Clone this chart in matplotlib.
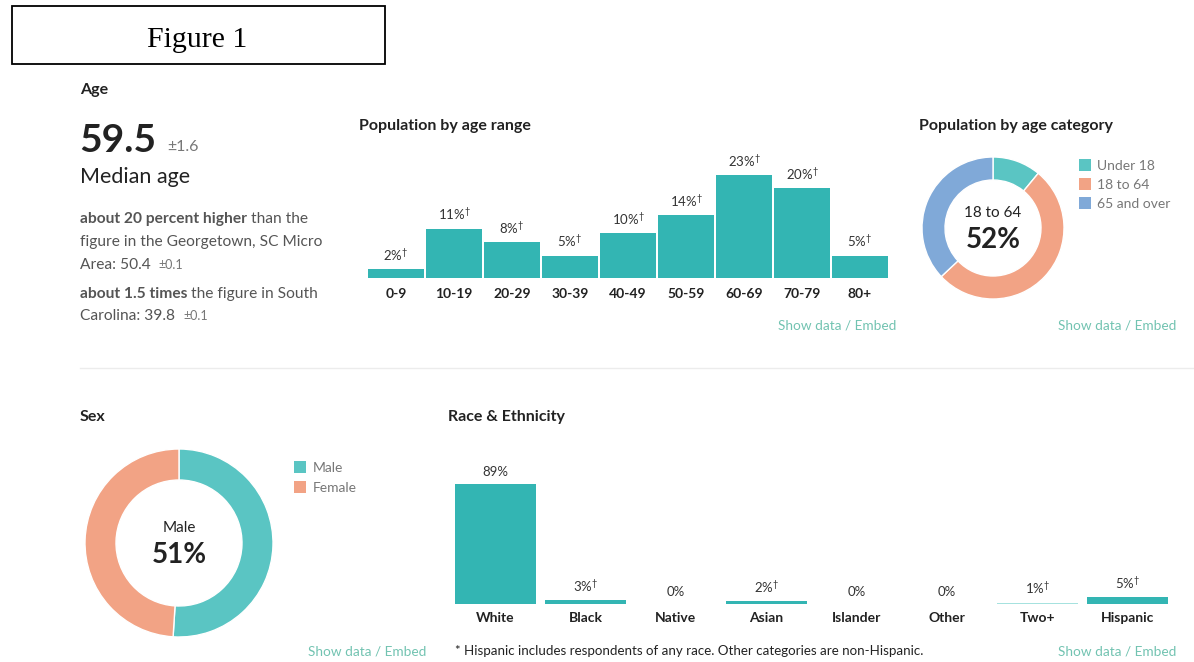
import matplotlib
matplotlib.use("Agg")
import matplotlib.pyplot as plt
from matplotlib.patches import Rectangle
from matplotlib.lines import Line2D

plt.rcParams['font.family'] = ['Lato', 'DejaVu Sans']
plt.rcParams['mathtext.fontset'] = 'custom'
plt.rcParams['mathtext.rm'] = 'Lato'
plt.rcParams['mathtext.bf'] = 'Lato:bold'

# ---------------- data ----------------
age_ranges = ["0-9", "10-19", "20-29", "30-39", "40-49", "50-59", "60-69", "70-79", "80+"]
age_pct = [2, 11, 8, 5, 10, 14, 23, 20, 5]

age_cat_labels = ["Under 18", "18 to 64", "65 and over"]
age_cat_pct = [11, 52, 37]

sex_labels = ["Male", "Female"]
sex_pct = [51, 49]

race_labels = ["White", "Black", "Native", "Asian", "Islander", "Other", "Two+", "Hispanic"]
race_pct = [89, 3, 0, 2, 0, 0, 1, 5]
race_dagger = [False, True, False, True, False, False, True, True]

median_age = "59.5"
median_moe = "±1.6"

# ---------------- style ----------------
W, H = 1194, 662
BAR = "#33b5b3"
TEAL = "#5ac5c3"
SALMON = "#f2a385"
BLUE = "#80a9d8"
LIGHT_TEAL = "#a6e2df"
LINK = "#72c3b1"
DARK = "#222222"
BODY = "#555555"
MUTED = "#777777"

fig = plt.figure(figsize=(W / 100, H / 100), dpi=100)
fig.patch.set_facecolor("white")


def fx(x):
    return x / W


def fy(y):
    return 1 - y / H


def txt(x, y, s, **kw):
    kw.setdefault("va", "baseline")
    return fig.text(fx(x), fy(y), s, **kw)


def add_axes_px(x0, y0, x1, y1):
    return fig.add_axes([fx(x0), fy(y1), (x1 - x0) / W, (y1 - y0) / H])


renderer = fig.canvas.get_renderer()


def width_px(t):
    return t.get_window_extent(renderer=renderer).width


def mixed_line(x, y, parts, size):
    for s, bold, color, sz in parts:
        t = txt(x, y, s, fontsize=sz or size, fontweight="bold" if bold else "normal", color=color)
        x += width_px(t)


# ---------------- Figure 1 box ----------------
fig.add_artist(Rectangle((fx(12), fy(64)), (385 - 12) / W, (64 - 6) / H,
                         transform=fig.transFigure, fill=False, edgecolor="black", linewidth=1.3))
txt(197, 47, "Figure 1", ha="center", fontsize=21.5, family="Liberation Serif", color="black")

# ---------------- Age text block ----------------
txt(80, 94, "Age", fontsize=11.5, fontweight="bold", color=DARK)
t = txt(79, 152, median_age, fontsize=28, fontweight="bold", color=DARK)
txt(79 + width_px(t) + 11, 151, median_moe, fontsize=11.5, color=MUTED)
txt(80, 183, "Median age", fontsize=15.5, color=DARK)

BS = 11.2
mixed_line(80, 223, [("about 20 percent higher", True, BODY, None), (" than the", False, BODY, None)], BS)
mixed_line(80, 246, [("figure in the Georgetown, SC Micro", False, BODY, None)], BS)
mixed_line(80, 269, [("Area: 50.4  ", False, BODY, None), ("±0.1", False, MUTED, 9)], BS)
mixed_line(80, 298, [("about 1.5 times", True, BODY, None), (" the figure in South", False, BODY, None)], BS)
mixed_line(80, 320, [("Carolina: 39.8  ", False, BODY, None), ("±0.1", False, MUTED, 9)], BS)


def value_label(ax, x, y, v, dagger, size):
    s = f"{v}%" + (r"$^{\dagger}$" if dagger else "")
    ax.annotate(s, (x, y), xytext=(0, 6), textcoords="offset points",
                ha="center", va="baseline", fontsize=size, color="#333333")


def clean(ax):
    for sp in ax.spines.values():
        sp.set_visible(False)
    ax.tick_params(axis="both", length=0)
    ax.set_yticks([])


# ---------------- Population by age range ----------------
txt(359, 130, "Population by age range", fontsize=11.5, fontweight="bold", color=DARK)
ax1 = add_axes_px(367, 150, 889, 278)
xs = list(range(len(age_ranges)))
ax1.bar(xs, age_pct, width=0.975, color=BAR)
ax1.set_xlim(-0.5, len(age_ranges) - 0.5)
ax1.set_ylim(0, 128 / 4.48)
clean(ax1)
ax1.set_xticks(xs, age_ranges, fontsize=10, fontweight="bold", color=DARK)
ax1.tick_params(axis="x", pad=7)
for x, v in zip(xs, age_pct):
    value_label(ax1, x, v, v, True, 9.5)
txt(896, 329, "Show data / Embed", ha="right", fontsize=9.8, color=LINK)

# ---------------- Population by age category ----------------
txt(919, 130, "Population by age category", fontsize=11.5, fontweight="bold", color=DARK)
R1 = 71
CX1, CY1 = 993, 228
ax2 = add_axes_px(CX1 - R1, CY1 - R1, CX1 + R1, CY1 + R1)
ax2.pie(age_cat_pct, colors=[TEAL, SALMON, BLUE], startangle=90, counterclock=False,
        wedgeprops=dict(width=23 / R1, edgecolor="white", linewidth=1))
ax2.set_xlim(-1, 1)
ax2.set_ylim(-1, 1)
ax2.set_axis_off()
txt(CX1, 217, age_cat_labels[1], ha="center", fontsize=11, color=DARK)
txt(CX1, 248, f"{age_cat_pct[1]}%", ha="center", fontsize=20, fontweight="bold", color=DARK)
for i, (lab, col) in enumerate(zip(age_cat_labels, [TEAL, SALMON, BLUE])):
    yc = 165 + 19 * i
    fig.add_artist(Rectangle((fx(1079), fy(yc + 6)), 12 / W, 12 / H,
                             transform=fig.transFigure, color=col, linewidth=0))
    txt(1097, yc + 5, lab, fontsize=10, color=MUTED)
txt(1176, 329, "Show data / Embed", ha="right", fontsize=9.8, color=LINK)

# separator
fig.add_artist(Line2D([fx(80), fx(1194)], [fy(368), fy(368)], transform=fig.transFigure,
                      color="#ececec", linewidth=1))

# ---------------- Sex ----------------
txt(80, 421, "Sex", fontsize=11.5, fontweight="bold", color=DARK)
R2 = 94
CX2, CY2 = 179, 543
ax3 = add_axes_px(CX2 - R2, CY2 - R2, CX2 + R2, CY2 + R2)
ax3.pie(sex_pct, colors=[TEAL, SALMON], startangle=90, counterclock=False,
        wedgeprops=dict(width=31 / R2, edgecolor="white", linewidth=1))
ax3.set_xlim(-1, 1)
ax3.set_ylim(-1, 1)
ax3.set_axis_off()
txt(CX2, 532, sex_labels[0], ha="center", fontsize=11, color=DARK)
txt(CX2, 563, f"{sex_pct[0]}%", ha="center", fontsize=20, fontweight="bold", color=DARK)
for i, (lab, col) in enumerate(zip(sex_labels, [TEAL, SALMON])):
    yc = 467 + 20 * i
    fig.add_artist(Rectangle((fx(294), fy(yc + 6)), 12 / W, 12 / H,
                             transform=fig.transFigure, color=col, linewidth=0))
    txt(313, yc + 5, lab, fontsize=10, color=MUTED)
txt(426, 655, "Show data / Embed", ha="right", fontsize=9.8, color=LINK)

# ---------------- Race & Ethnicity ----------------
txt(448, 421, "Race & Ethnicity", fontsize=11.5, fontweight="bold", color=DARK)
ax4 = add_axes_px(450, 460, 1173, 604)
rx = list(range(len(race_labels)))
race_colors = [LIGHT_TEAL if lab == "Two+" else BAR for lab in race_labels]
ax4.bar(rx, race_pct, width=0.897, color=race_colors)
ax4.set_xlim(-0.5, len(race_labels) - 0.5)
ax4.set_ylim(0, 144 / 1.348)
clean(ax4)
ax4.set_xticks(rx, race_labels, fontsize=10, fontweight="bold", color=DARK)
ax4.tick_params(axis="x", pad=6)
for x, v, d in zip(rx, race_pct, race_dagger):
    value_label(ax4, x, v, v, d, 9.5)
txt(455, 655, "* Hispanic includes respondents of any race. Other categories are non-Hispanic.",
    fontsize=9.6, color=DARK)
txt(1176, 655, "Show data / Embed", ha="right", fontsize=9.8, color=LINK)

fig.savefig("out.png", dpi=100, facecolor="white")
